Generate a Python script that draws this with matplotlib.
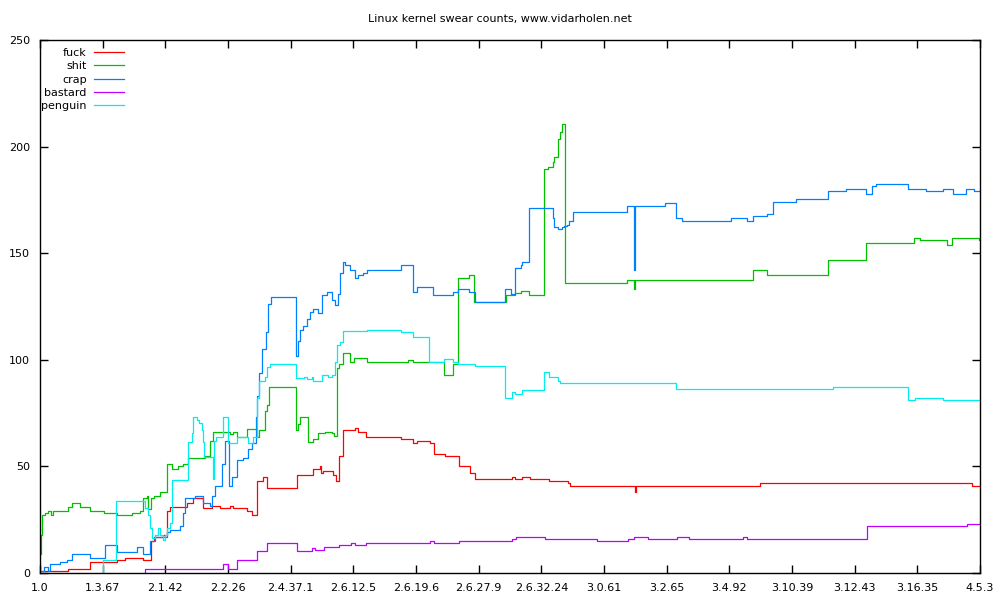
import matplotlib
matplotlib.use("Agg")
import matplotlib.pyplot as plt

# release index (every 20th release labelled on the x axis)
tick_pos = [0, 20, 40, 60, 80, 100, 120, 140, 160, 180, 200, 220, 240, 260, 280, 300]
tick_labels = ['1.0', '1.3.67', '2.1.42', '2.2.26', '2.4.37.1', '2.6.12.5', '2.6.19.6',
               '2.6.27.9', '2.6.32.24', '3.0.61', '3.2.65', '3.4.92', '3.10.39',
               '3.12.43', '3.16.35', '4.5.3']

fuck_x = [0, 8.9, 16.0, 24.6, 27.1, 32.9, 35.4, 36.4, 39.2, 40.5, 41.5, 46.9, 48.8, 52.0,
          54.9, 57.4, 60.6, 61.6, 66.1, 67.6, 69.2, 71.2, 72.4, 82.0, 87.1, 89.3, 89.7,
          90.3, 93.5, 94.5, 95.4, 96.7, 100.5, 101.5, 104.0, 115.2, 119.0, 120.3, 124.5,
          125.7, 129.2, 133.7, 137.2, 138.8, 150.6, 151.6, 153.8, 156.4, 162.4, 168.5,
          169.1, 189.9, 190.2, 229.8, 297.4, 300]
fuck_y = [1, 2, 5, 6, 7, 6, 15, 17, 18, 29, 31, 33, 35, 30.5, 31.5, 30.5, 31.5, 30.5, 29,
          27, 43, 45, 40, 46, 49, 50, 47, 48, 46, 43, 55, 67, 68, 66, 64, 63, 61, 62, 61,
          56, 55, 50, 47, 44, 45, 44, 45, 44, 43, 42, 41, 38, 41, 42, 41, 41]

shit_x = [0, 0.3, 0.6, 1.6, 2.6, 3.5, 4.1, 8.9, 10.2, 12.8, 16.0, 20.4, 24.6, 29.4, 31.9,
          32.9, 34.1, 34.5, 35.4, 36.4, 38.3, 40.5, 42.1, 44.0, 45.6, 47.2, 52.7, 54.2,
          55.2, 58.4, 60.6, 61.6, 62.9, 66.1, 69.2, 69.9, 71.8, 72.4, 73.1, 81.7, 82.3,
          83.0, 85.5, 87.1, 88.7, 90.9, 93.2, 93.8, 94.8, 95.4, 96.7, 98.9, 100.2, 104.3,
          117.4, 119.0, 128.9, 131.8, 133.4, 136.9, 138.5, 148.7, 151.6, 153.5, 156.0,
          160.8, 162.1, 163.7, 164.0, 165.3, 165.9, 166.6, 167.5, 187.3, 189.5, 189.9,
          227.5, 232.0, 251.5, 263.6, 278.9, 280.8, 289.4, 291.0, 299.6, 300]
shit_y = [9, 18, 27, 28, 29, 27, 29, 31, 33, 31, 29, 28, 27, 28, 29, 35, 36, 30, 35, 36,
          38, 51, 49, 50, 51, 54, 55, 62, 66, 66, 65, 66, 64, 67.5, 64, 67, 76, 79, 87.4,
          67, 70, 73.3, 61.6, 63, 65.5, 66, 65.5, 64.3, 96, 98, 103, 99, 101, 98.8, 100,
          98.8, 93, 98, 138.2, 139.6, 127.2, 130.4, 131.5, 132.3, 130.4, 189.3, 190.3,
          193, 195.3, 203.4, 207, 210.4, 136, 137.4, 133, 137.4, 142, 140, 147, 155, 157,
          156, 154, 157, 156, 156]

crap_x = [0, 1.3, 2.6, 3.2, 6.4, 8.6, 10.2, 16.0, 20.7, 24.6, 31.0, 32.9, 35.1, 36.7,
          40.5, 41.5, 44.7, 45.6, 46.3, 49.5, 52.0, 54.2, 54.9, 55.8, 58.1, 59.0, 60.3,
          61.3, 62.9, 64.8, 66.4, 67.6, 68.9, 69.2, 69.9, 70.8, 72.1, 72.8, 73.7, 81.7,
          82.3, 83.0, 83.9, 85.2, 86.2, 87.1, 88.7, 90.0, 91.6, 93.2, 94.1, 95.1, 95.7,
          96.7, 97.3, 98.9, 100.5, 101.5, 103.1, 104.3, 115.2, 119.0, 120.3, 125.4, 131.8,
          133.4, 136.9, 138.8, 148.4, 150.3, 151.6, 153.5, 153.8, 156.0, 163.7, 164.0,
          165.3, 166.6, 167.2, 168.2, 168.8, 170.1, 187.3, 189.5, 189.9, 199.4, 202.9,
          204.9, 220.5, 225.6, 227.5, 232.0, 233.9, 241.2, 251.5, 257.2, 263.6, 265.5,
          266.8, 277.0, 282.7, 288.1, 291.3, 295.5, 298.0, 300]
crap_y = [1, 3, 1, 4, 5, 6, 9, 7, 13, 10, 12, 9, 15, 17, 19, 20, 22, 28, 35, 36, 33, 31.5,
          36, 41, 51, 62, 41, 45, 53, 54, 58, 61, 73, 83, 94, 105, 113, 126, 129.5, 102,
          109, 114, 116, 119, 122.6, 124, 122, 130.4, 132, 128, 125.7, 131, 140.7, 146,
          144.4, 142, 138.3, 139.7, 140.8, 142, 144.4, 132, 134, 130.4, 132, 133, 132, 127,
          133, 131, 143, 144.5, 146, 171, 166.5, 162.3, 161.4, 162.3, 162.7, 163, 165,
          169.3, 172, 142, 172, 173.4, 166.3, 165, 166.3, 165, 167.4, 168.3, 174.2, 175.3,
          179, 180, 178, 181.5, 182.3, 180, 179, 180, 178, 180, 179, 179]

bastard_x = [33.4, 33.5, 58.4, 60.0, 62.9, 69.2, 72.4, 82.0, 86.8, 87.7, 90.6, 95.4, 99.3,
             100.5, 104.0, 124.5, 125.7, 133.7, 150.6, 151.9, 161.1, 177.7, 187.6, 189.5,
             194.0, 203.3, 207.1, 224.3, 225.6, 263.9, 295.8, 300]
bastard_y = [0, 1.7, 4.2, 1.7, 6.1, 10.5, 13.9, 10.5, 11.5, 11, 12.2, 13, 13.9, 13, 13.9,
             14.8, 13.9, 14.8, 15.8, 16.7, 15.8, 14.8, 15.8, 16.7, 15.8, 16.7, 15.8, 16.7,
             15.8, 22, 23, 23]

penguin_x = [20.0, 20.1, 24.3, 33.5, 34.5, 35.1, 35.7, 36.7, 37.7, 38.3, 39.2, 39.9, 40.5,
             41.5, 42.1, 47.2, 48.5, 48.8, 50.1, 50.7, 51.7, 52.0, 52.3, 55.2, 55.5, 56.2,
             58.4, 60.0, 62.9, 66.4, 68.0, 69.2, 69.9, 71.2, 71.8, 72.4, 73.4, 81.7, 84.2,
             85.2, 86.8, 87.1, 90.0, 91.9, 93.2, 94.1, 94.8, 95.7, 96.7, 104.3, 115.2,
             119.0, 124.1, 128.9, 131.8, 133.4, 138.8, 148.4, 150.6, 151.6, 153.8, 160.8,
             162.4, 165.3, 165.9, 202.9, 253.0, 277.0, 279.2, 288.1, 300]
penguin_y = [0, 6, 34, 30.5, 27, 21, 16.4, 18, 21, 18, 15.5, 18, 21, 23.3, 43.6, 61.6, 65.5,
             73, 72, 70.5, 67, 61.6, 54.6, 44, 62, 63.6, 73, 61, 64, 61, 64, 82, 90, 90, 92,
             96.8, 97.9, 91.3, 92, 91, 92, 90, 93, 92, 93, 99, 107, 108.5, 113.6, 114,
             112.9, 110.8, 98.8, 100.2, 98.8, 97.9, 97, 82.2, 85, 84, 86, 94.1, 92, 90, 89,
             86.2, 87.1, 81.1, 81.9, 81.1, 81.1]

series = [('fuck', fuck_x, fuck_y, '#ff0000'),
          ('shit', shit_x, shit_y, '#00c000'),
          ('crap', crap_x, crap_y, '#0080ff'),
          ('bastard', bastard_x, bastard_y, '#c000ff'),
          ('penguin', penguin_x, penguin_y, '#00eeee')]

plt.rcParams['font.family'] = 'DejaVu Sans'

fig = plt.figure(figsize=(10, 6), dpi=100)
ax = fig.add_axes([0.04, 0.045, 0.94, 0.8883])

for name, xs, ys, col in series:
    ax.step(xs, ys, where='post', color=col, lw=0.9, label=name)

ax.set_xlim(0, 300)
ax.set_ylim(0, 250)
ax.set_xticks(tick_pos)
ax.set_xticklabels(tick_labels, fontsize=8)
ax.set_yticks([0, 50, 100, 150, 200, 250])
ax.tick_params(axis='both', direction='in', length=6, width=1, labelsize=8,
               top=True, right=True, pad=7)
for s in ax.spines.values():
    s.set_linewidth(1)

ax.legend(loc='upper left', frameon=False, markerfirst=False, fontsize=8,
          handlelength=2.7, handletextpad=0.6, labelspacing=0.3,
          bbox_to_anchor=(-0.008, 1.002), borderaxespad=0.4)

fig.text(0.5, 0.968, 'Linux kernel swear counts, www.vidarholen.net',
         ha='center', va='center', fontsize=8)

fig.savefig('out.png', dpi=100, facecolor='white')
